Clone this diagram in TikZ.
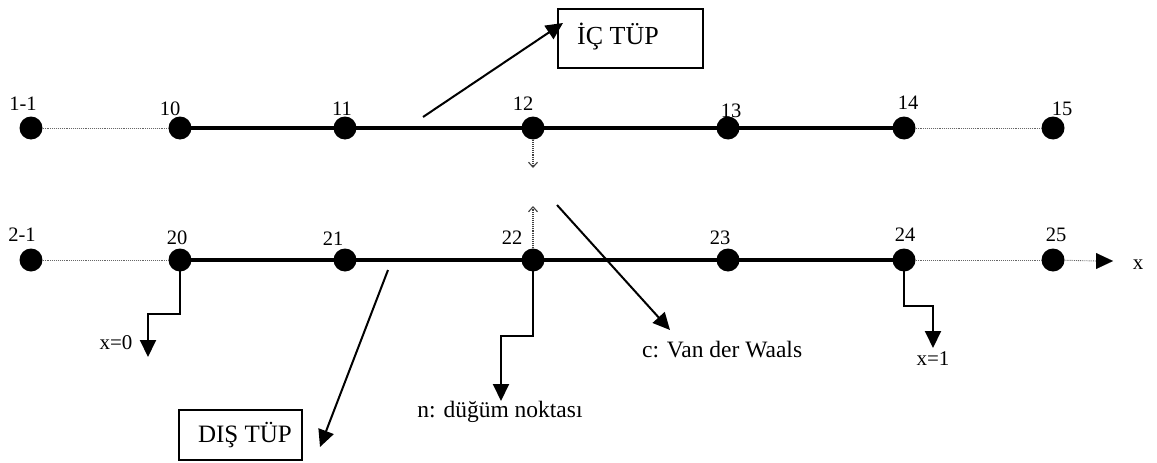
\documentclass[tikz,border=0pt]{standalone}
\usepackage{fontspec}
\setmainfont{Liberation Serif}
\usetikzlibrary{arrows.meta}
\begin{document}
\begin{tikzpicture}[x=1pt,y=-1pt,
  dot/.style={circle,fill=black,inner sep=0pt,minimum size=23pt},
  num/.style={font=\fontsize{20.5}{20.5}\selectfont,inner sep=0pt},
  txt/.style={font=\fontsize{23.5}{23.5}\selectfont,inner sep=0pt},
  tube/.style={line width=4.5pt},
  guide/.style={black!60,line width=0.9pt,densely dotted},
  conn/.style={line width=2pt,-{Triangle[length=17pt,width=16pt]}},
  hint/.style={black!75,line width=1.1pt,densely dotted,-{Straight Barb[length=5pt,width=9pt]}},
  boxed/.style={draw,line width=1.3pt,inner sep=0pt}
]
\useasboundingbox (0,0) rectangle (1157,463);

% inner tube nodes
\foreach \n/\x in {11/31,10/180,1a/345,12/533,13/728,14/904,15/1053}
  \node[dot] (t\n) at (\x,128) {};
% outer tube nodes
\foreach \n/\x in {21/31,20/180,2a/345,22/533,23/728,24/904,25/1053}
  \node[dot] (b\n) at (\x,260) {};

% node numbers
\node[num] (l11) at (23,104) {1-1};
\node[num] (l10) at (170,109) {10};
\node[num] (l1a) at (342,109) {11};
\node[num] (l12) at (523,104) {12};
\node[num] (l13) at (731,111) {13};
\node[num] (l14) at (908,103) {14};
\node[num] (l15) at (1062,109) {15};
\node[num] (l21) at (22,235) {2-1};
\node[num] (l20) at (177,238) {20};
\node[num] (l2a) at (333,239) {21};
\node[num] (l22) at (512,238) {22};
\node[num] (l23) at (720,238) {23};
\node[num] (l24) at (905,235) {24};
\node[num] (l25) at (1056,235) {25};

% tubes
\draw[guide] (t11) -- (t10);
\draw[tube] (t10.center) -- (t14.center);
\draw[guide] (t14) -- (t15);
\draw[guide] (b21) -- (b20);
\draw[tube] (b20.center) -- (b24.center);
\draw[guide] (b24) -- (b25);

% x axis
\coordinate (xend) at (1097,261);
\draw[guide] (b25) -- (xend);
\draw[-{Triangle[length=17pt,width=16pt]},line width=0.1pt] (xend) -- ++(16,0);
\node[txt,font=\fontsize{21}{21}\selectfont] (xlab) at (1138,265) {x};

% interaction hints
\coordinate (h12) at (533,168);
\coordinate (h22) at (533,206);
\draw[hint] (t12.south) -- (h12);
\draw[hint] (b22.north) -- (h22);

% inner tube label
\node[boxed,minimum width=145pt,minimum height=59pt] (ic) at (630.5,38.5) {};
\node[txt,font=\fontsize{26}{26}\selectfont] (ictxt) at (618,37) {İÇ TÜP};
\coordinate (ics) at (423,117);
\coordinate (ice) at (563,23);
\draw[conn] (ics) -- (ice);

% outer tube label
\node[boxed,minimum width=123pt,minimum height=50pt] (dis) at (240.5,435) {};
\node[txt,font=\fontsize{25}{25}\selectfont] (distxt) at (245,435) {DIŞ TÜP};
\coordinate (diss) at (388,270);
\coordinate (dise) at (320,447);
\draw[conn] (diss) -- (dise);

% van der Waals
\coordinate (vws) at (557,205);
\coordinate (vwe) at (670,330);
\draw[conn] (vws) -- (vwe);
\node[txt,anchor=west] (vw) at (642,350) {c: Van der Waals};

% node point
\coordinate (np) at (501,336);
\coordinate (npe) at (501,401);
\draw[conn] (b22.center) |- (np) -- (npe);
\node[txt] (nptxt) at (500,412) {n: düğüm noktası};

% boundaries
\coordinate (x0) at (148,314);
\coordinate (x0e) at (148,357);
\draw[conn] (b20.center) |- (x0) -- (x0e);
\node[num,font=\fontsize{21}{21}\selectfont] (x0t) at (116,343) {x=0};

\coordinate (x1) at (933,306);
\coordinate (x1e) at (933,348);
\draw[conn] (b24.center) |- (x1) -- (x1e);
\node[num,font=\fontsize{21}{21}\selectfont] (x1t) at (933,359) {x=1};
\end{tikzpicture}
\end{document}
